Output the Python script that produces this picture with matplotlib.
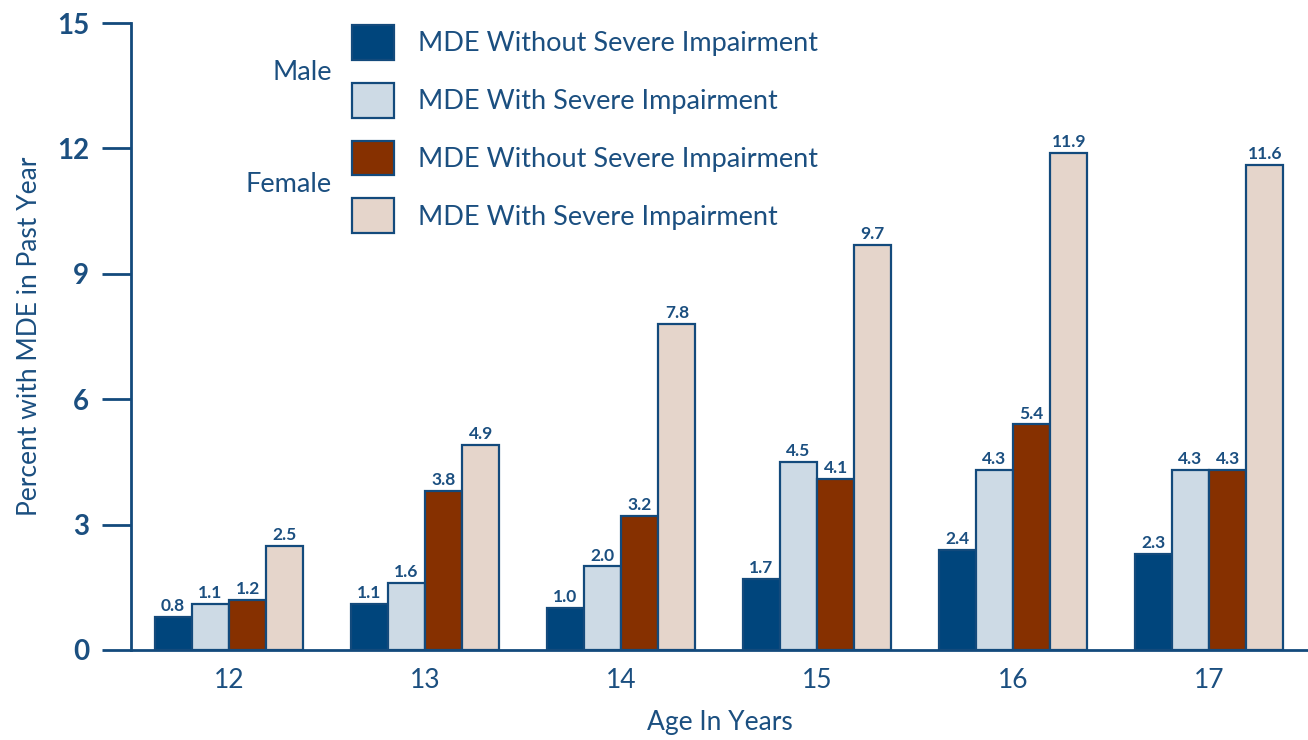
import numpy as np
import matplotlib
matplotlib.use("Agg")
import matplotlib.pyplot as plt

# data
ages = ["12", "13", "14", "15", "16", "17"]
male_without = [0.8, 1.1, 1.0, 1.7, 2.4, 2.3]
male_with = [1.1, 1.6, 2.0, 4.5, 4.3, 4.3]
female_without = [1.2, 3.8, 3.2, 4.1, 5.4, 4.3]
female_with = [2.5, 4.9, 7.8, 9.7, 11.9, 11.6]
series_labels = ["MDE Without Severe Impairment", "MDE With Severe Impairment",
                 "MDE Without Severe Impairment", "MDE With Severe Impairment"]
y_ticks = [0, 3, 6, 9, 12, 15]

TXT = '#1b4f80'
EDGE = '#134a7c'
colors = ['#00457c', '#cddae5', '#863000', '#e5d5cb']

plt.rcParams['font.family'] = ['Lato', 'DejaVu Sans']

fig = plt.figure(figsize=(13.08, 7.4), dpi=100)
W, H = 1308, 740
ax = fig.add_axes([131 / W, 1 - 650 / H, 1 - 131 / W, (650 - 23) / H])

x = np.arange(len(ages))
w = 0.19
offsets = [-1.5 * w, -0.5 * w, 0.5 * w, 1.5 * w]
handles = []
for vals, off, col, lab in zip([male_without, male_with, female_without, female_with],
                               offsets, colors, series_labels):
    bars = ax.bar(x + off, vals, width=w, color=col, edgecolor=EDGE,
                  linewidth=1.6, label=lab, zorder=3)
    handles.append(bars)
    for b, v in zip(bars, vals):
        ax.annotate(f"{v:.1f}", (b.get_x() + b.get_width() / 2, v),
                    xytext=(0, 2), textcoords='offset points',
                    ha='center', va='bottom', fontsize=12.5,
                    fontweight='bold', color=TXT, zorder=4)

ax.set_xlim(-0.5, 5.505)
ax.set_ylim(0, 15)
ax.set_xticks(x)
ax.set_xticklabels(ages)
ax.set_yticks(y_ticks)
ax.set_yticklabels([str(t) for t in y_ticks])

for s in ['top', 'right']:
    ax.spines[s].set_visible(False)
for s in ['left', 'bottom']:
    ax.spines[s].set_color(EDGE)
    ax.spines[s].set_linewidth(2)

ax.tick_params(axis='y', length=21, width=2, color=EDGE, pad=9,
               labelsize=20, labelcolor=TXT)
for lbl in ax.get_yticklabels():
    lbl.set_fontweight('bold')
ax.tick_params(axis='x', length=0, pad=13, labelsize=19, labelcolor=TXT)

ax.set_xlabel("Age In Years", fontsize=19, color=TXT, labelpad=12)
ax.set_ylabel("Percent with MDE in Past Year", fontsize=19, color=TXT)
ax.yaxis.set_label_coords(-(131 - 42) / (W - 131), 0.5)

leg = fig.legend(handles=handles, loc='upper left',
                 bbox_to_anchor=(352 / W, 1 - 25 / H), frameon=False,
                 borderpad=0, borderaxespad=0, fontsize=19.5,
                 handlelength=1.55, handleheight=1.6, handletextpad=0.9,
                 labelspacing=0.85)
for t in leg.get_texts():
    t.set_color(TXT)

fig.text(332 / W, 1 - 73 / H, "Male", ha='right', va='center', fontsize=19.5, color=TXT)
fig.text(332 / W, 1 - 184 / H, "Female", ha='right', va='center', fontsize=19.5, color=TXT)

fig.savefig("out.png", dpi=100)
